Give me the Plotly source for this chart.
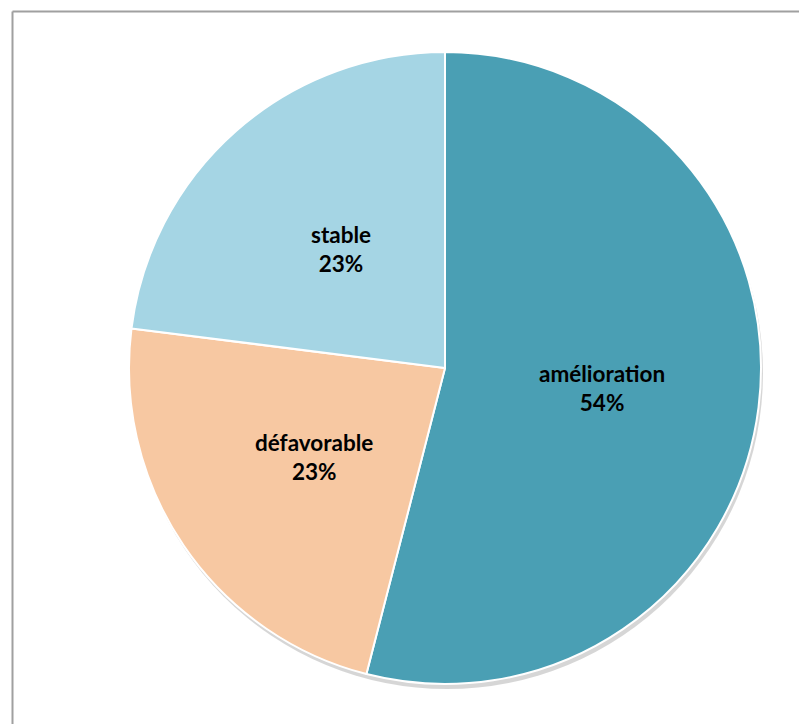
import math
import plotly.graph_objects as go

labels = ["amélioration", "défavorable", "stable"]
values = [54, 23, 23]
colors = ["#4A9FB4", "#F7C8A2", "#A5D5E4"]

off = 8  # page body offset
W, H = 807 - off, 724 - off
cx, cy, r = 445 - off, 368 - off, 316

fig = go.Figure()
# soft shadow behind the pie
fig.add_trace(go.Pie(
    values=[1], labels=["shadow"], marker=dict(colors=["rgba(0,0,0,0.16)"], line=dict(width=0)),
    textinfo="none", hoverinfo="skip", showlegend=False, sort=False,
    domain=dict(x=[(cx - r + 2) / W, (cx + r + 2) / W], y=[1 - (cy + r + 5) / H, 1 - (cy - r + 5) / H]),
))
fig.add_trace(go.Pie(
    labels=labels, values=values, sort=False, direction="clockwise", rotation=0,
    marker=dict(colors=colors, line=dict(color="white", width=2)),
    textinfo="none", hoverinfo="label+percent",
    showlegend=False,
    domain=dict(x=[(cx - r) / W, (cx + r) / W], y=[1 - (cy + r) / H, 1 - (cy - r) / H]),
))

# labels at half radius, mid-angle of each slice
total = sum(values)
cum = 0
annotations = []
for lab, v in zip(labels, values):
    mid = (cum + v / 2) / total * 2 * math.pi
    cum += v
    px = cx + 0.5 * r * math.sin(mid)
    py = cy - 0.5 * r * math.cos(mid)
    annotations.append(dict(
        x=px / W, y=1 - py / H, xref="paper", yref="paper", showarrow=False,
        text=f"<b>{lab}</b><br><b>{round(v / total * 100)}%</b>",
        font=dict(family="Lato, Open Sans, sans-serif", size=22.5, color="black"),
        align="center", xanchor="center", yanchor="middle",
    ))

fx = (12.5 - off) / W
fy = 1 - (11.5 - off) / H
fig.update_layout(
    width=W, height=H, margin=dict(l=0, r=0, t=0, b=0),
    paper_bgcolor="white", plot_bgcolor="white",
    annotations=annotations,
    shapes=[
        dict(type="line", xref="paper", yref="paper", x0=fx, x1=fx, y0=-0.05, y1=fy,
             line=dict(color="#A0A0A0", width=2), layer="below"),
        dict(type="line", xref="paper", yref="paper", x0=fx, x1=1.05, y0=fy, y1=fy,
             line=dict(color="#A0A0A0", width=2), layer="below"),
    ],
)
fig.write_html("out.html")
